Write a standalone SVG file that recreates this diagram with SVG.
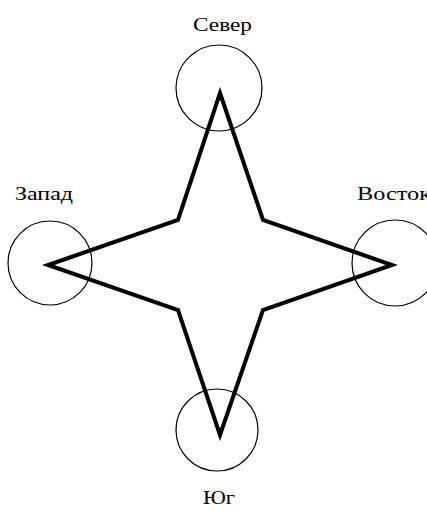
<svg xmlns="http://www.w3.org/2000/svg" width="427" height="511" viewBox="0 0 427 511">
<style>
.c{fill:none;stroke:#000;stroke-width:1.2}
.s{fill:none;stroke:#000;stroke-width:4;stroke-linejoin:miter;stroke-miterlimit:20}
.t{font-family:"Liberation Serif",serif;font-size:18px;fill:#000}
</style>
<rect width="427" height="511" fill="#fff"/>
<g id="connectors">
<path class="s" d="M220,93 L263,220 L392,265 L263,310 L220,435 L178,310 L48,265 L178,220 Z"/>
</g>
<g id="north"><circle class="c" cx="219" cy="88" r="43"/><text class="t" x="193" y="31" textLength="59" lengthAdjust="spacingAndGlyphs">Север</text></g>
<g id="west"><circle class="c" cx="50" cy="263" r="42"/><text class="t" x="15" y="200" textLength="58" lengthAdjust="spacingAndGlyphs">Запад</text></g>
<g id="east"><circle class="c" cx="395" cy="263" r="43"/><text class="t" x="357" y="200" textLength="74" lengthAdjust="spacingAndGlyphs">Восток</text></g>
<g id="south"><circle class="c" cx="217" cy="430" r="41"/><text class="t" x="203" y="504" textLength="32" lengthAdjust="spacingAndGlyphs">Юг</text></g>
</svg>
